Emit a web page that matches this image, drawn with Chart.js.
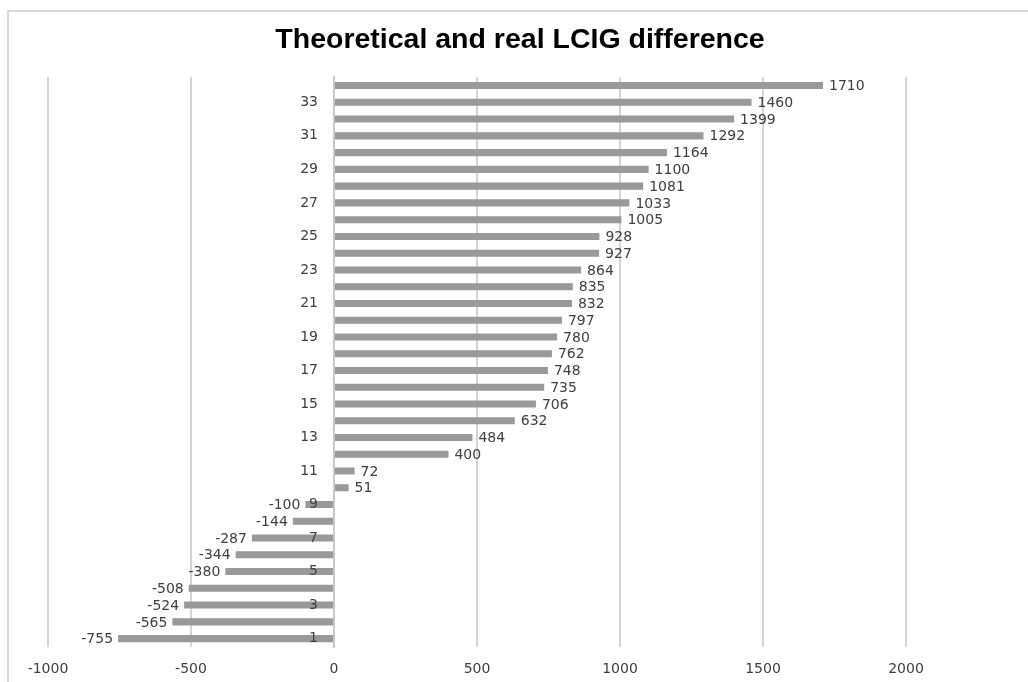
<!DOCTYPE html>
<html>
<head>
<meta charset="utf-8">
<script src="https://cdn.jsdelivr.net/npm/chart.js@4"></script>
<style>
  html, body { margin: 0; padding: 0; background: #fff; overflow: hidden; }
  #wrap { position: relative; width: 1028px; height: 682px; overflow: hidden; }
  #frame { position: absolute; left: 7px; top: 10px; width: 1300px; height: 1000px;
           border: 2px solid #d9d9d9; pointer-events: none; }
  canvas { position: absolute; left: 0; top: 0; }
</style>
</head>
<body>
<div id="wrap">
  <canvas id="lcigChart" width="1028" height="682"></canvas>
  <div id="frame"></div>
</div>
<script>
// Patients 1..34 (bottom to top) and the difference between theoretical and real LCIG
const categories = ['1','2','3','4','5','6','7','8','9','10','11','12','13','14','15','16','17',
  '18','19','20','21','22','23','24','25','26','27','28','29','30','31','32','33','34'];
const values = [-755, -565, -524, -508, -380, -344, -287, -144, -100, 51, 72, 400, 484, 632,
  706, 735, 748, 762, 780, 797, 832, 835, 864, 927, 928, 1005, 1033, 1081, 1100, 1164,
  1292, 1399, 1460, 1710];
const xTicks = [-1000, -500, 0, 500, 1000, 1500, 2000];

const labelFont = { family: 'DejaVu Sans', size: 14 };
const textColor = '#404040';

// values written at the end of each bar
const barValues = {
  id: 'barValues',
  afterDatasetsDraw(chart) {
    const ctx = chart.ctx;
    const meta = chart.getDatasetMeta(0);
    ctx.save();
    ctx.font = labelFont.size + 'px "' + labelFont.family + '"';
    ctx.fillStyle = textColor;
    ctx.textBaseline = 'middle';
    meta.data.forEach((bar, i) => {
      const v = values[i];
      if (v >= 0) {
        ctx.textAlign = 'left';
        ctx.fillText(String(v), bar.x + 6, bar.y + 1);
      } else {
        ctx.textAlign = 'right';
        ctx.fillText(String(v), bar.x - 5, bar.y + 1);
      }
    });
    ctx.restore();
  }
};

new Chart(document.getElementById('lcigChart'), {
  type: 'bar',
  data: {
    labels: categories,
    datasets: [{
      data: values,
      xAxisID: 'x',
      yAxisID: 'y',
      backgroundColor: '#999999',
      barPercentage: 0.42,
      categoryPercentage: 1
    }]
  },
  options: {
    indexAxis: 'y',
    responsive: false,
    animation: false,
    layout: { padding: { left: 48, right: 36, top: 0, bottom: 0 } },
    scales: {
      x: {
        min: xTicks[0],
        max: xTicks[xTicks.length - 1],
        afterBuildTicks: (axis) => { axis.ticks = xTicks.map(v => ({ value: v })); },
        afterFit: (axis) => { axis.height = 35; },
        grid: { color: '#d4d4d4', lineWidth: 2, drawTicks: false },
        border: { display: false },
        ticks: { font: labelFont, color: textColor, padding: 14, maxRotation: 0,
                 callback: (v) => String(v) }
      },
      y: {
        reverse: true,
        position: { x: 0 },
        grid: { display: false },
        border: { display: true, color: '#c8c8c8', width: 2 },
        ticks: { display: false }
      },
      // category labels, drawn just left of the zero line, on top of the bars
      yLabels: {
        type: 'category',
        reverse: true,
        position: { x: -56 },
        grid: { display: false },
        border: { display: false },
        ticks: {
          z: 1,
          font: labelFont,
          color: textColor,
          autoSkip: false,
          callback: (v, i) => (i % 2 === 0 ? categories[i] : '')
        }
      },
      // empty space to the right of the plot (keeps the title centred on the frame)
      ySpace: {
        type: 'category',
        position: 'right',
        grid: { display: false },
        border: { display: false },
        ticks: { display: false },
        afterFit: (axis) => { axis.width = 86; }
      }
    },
    plugins: {
      legend: { display: false },
      tooltip: { enabled: false },
      title: {
        display: true,
        text: 'Theoretical and real LCIG difference',
        color: '#000',
        font: { family: 'Liberation Sans', size: 28.5, weight: 'bold' },
        padding: { top: 23, bottom: 20 }
      }
    }
  },
  plugins: [barValues]
});
</script>
</body>
</html>
